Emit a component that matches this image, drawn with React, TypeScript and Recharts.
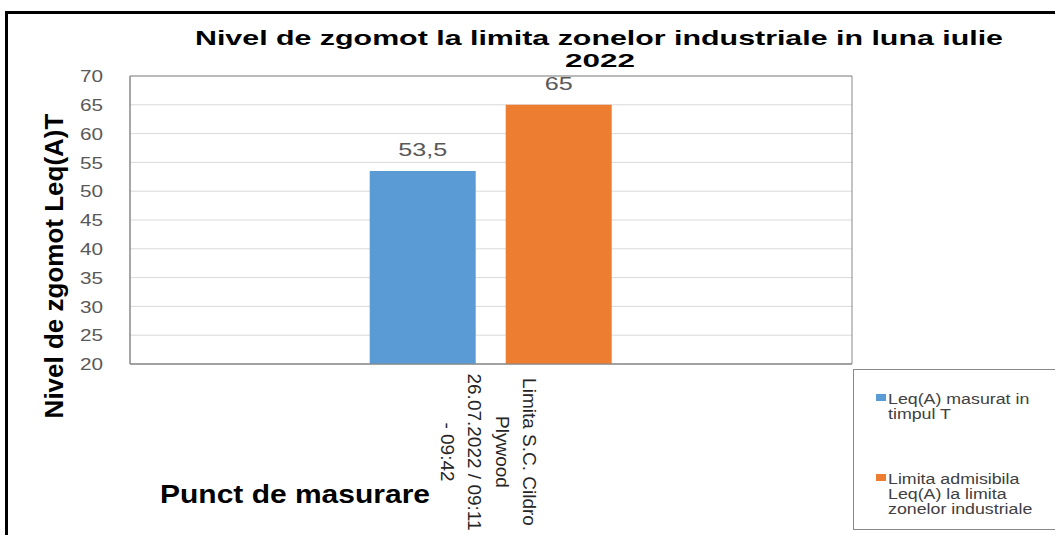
import React from 'react';
import { BarChart, Bar, XAxis, YAxis, CartesianGrid, ReferenceArea, LabelList, Legend } from 'recharts';

const categories = ['Limita S.C. Cildro Plywood 26.07.2022 / 09:11 - 09:42'];
const categoryLines = [['Limita S.C. Cildro', 'Plywood', '26.07.2022 / 09:11', '- 09:42']];
const measured = [53.5];
const limit = [65];
const yTicks = [20, 25, 30, 35, 40, 45, 50, 55, 60, 65, 70];
const seriesNames = ['Leq(A) masurat in timpul T', 'Limita admisibila Leq(A) la limita zonelor industriale'];
const legendLines = [['Leq(A) masurat in', 'timpul T'], ['Limita admisibila', 'Leq(A) la limita', 'zonelor industriale']];
const titleLines = ['Nivel de zgomot la limita zonelor industriale in luna iulie', '2022'];
const colors = ['#5b9bd5', '#ed7d31'];

const data = categories.map((c, i) => ({ name: c, measured: measured[i], limit: limit[i] }));

const font = '"Liberation Sans", Arial, sans-serif';
// the picture is a bit wider than tall, so horizontal text gets stretched
const SX = 1.27;

function CatTick(props: any) {
  const { x, payload } = props;
  const lines = categoryLines[payload.index] || [payload.value];
  return (
    <g transform={`translate(${x + 32},452) rotate(90)`}>
      {lines.map((l, i) => (
        <text key={i} x={0} y={i * 27.5} textAnchor="middle" fontSize={19} fill="#262626" fontFamily={font}>{l}</text>
      ))}
    </g>
  );
}

function YTick(props: any) {
  const { x, y, payload } = props;
  return (
    <g transform={`translate(${x},${y}) scale(1.22,1)`}>
      <text x={0} y={0} dy="0.36em" textAnchor="end" fontSize={17} fill="#595959" fontFamily={font}>{payload.value}</text>
    </g>
  );
}

function ValueLabel(props: any) {
  const { x, y, width, value } = props;
  return (
    <g transform={`translate(${x + width / 2},${y - 15}) scale(1.4,1)`}>
      <text x={0} y={0} textAnchor="middle" fontSize={18} fill="#595959" fontFamily={font}>{String(value).replace('.', ',')}</text>
    </g>
  );
}

function LegendBox() {
  const itemTop = [25, 105];
  return (
    <svg width={205} height={162} style={{ display: 'block' }}>
      <rect x={0.5} y={0.5} width={210} height={160} fill="#fff" stroke="#898989" />
      {legendLines.map((ls, i) => (
        <g key={i}>
          <rect x={23} y={itemTop[i]} width={10} height={7} fill={colors[i]} />
          {ls.map((l, j) => (
            <g key={j} transform={`translate(35,${itemTop[i] + 10 + j * 15}) scale(${SX},1)`}>
              <text x={0} y={0} fontSize={14} fill="#404040" fontFamily={font}>{l}</text>
            </g>
          ))}
        </g>
      ))}
    </svg>
  );
}

export default function App() {
  return (
    <div style={{ position: 'absolute', left: 0, top: 0, width: 1055, height: 535, background: '#fff', overflow: 'hidden' }}>
      <div style={{ position: 'absolute', left: 5, top: 11, width: 1200, height: 700, borderTop: '3px solid #000', borderLeft: '3px solid #000' }} />
      <BarChart width={1055} height={535} data={data} margin={{ top: 76, right: 203, bottom: 0, left: 0 }}
        barCategoryGap="33.2%" barGap={30} style={{ position: 'absolute', left: 0, top: 0 }}>
        <CartesianGrid vertical={false} stroke="#d9d9d9" />
        <XAxis dataKey="name" height={171} tickLine={false} axisLine={{ stroke: '#898989' }} tick={<CatTick />} interval={0} />
        <YAxis domain={[20, 70]} ticks={yTicks} width={130} tickLine={false} tickSize={0} tickMargin={27}
          axisLine={{ stroke: '#898989' }} tick={<YTick />} allowDataOverflow
          label={{
            content: () => (
              <text transform="translate(63,266) rotate(-90)" textAnchor="middle" fontSize={26} fontWeight="bold" fontFamily={font} fill="#000">
                Nivel de zgomot Leq(A)T
              </text>
            ),
          }} />
        <ReferenceArea y1={20} y2={70} fill="none" stroke="#898989" ifOverflow="visible" />
        <Legend layout="horizontal" align="center" verticalAlign="middle" content={() => <LegendBox />}
          wrapperStyle={{ position: 'absolute', left: 853, top: 369, width: 205, height: 162 }} />
        <Bar dataKey="measured" name={seriesNames[0]} fill={colors[0]} isAnimationActive={false}>
          <LabelList dataKey="measured" content={<ValueLabel />} />
        </Bar>
        <Bar dataKey="limit" name={seriesNames[1]} fill={colors[1]} isAnimationActive={false}>
          <LabelList dataKey="limit" content={<ValueLabel />} />
        </Bar>
      </BarChart>
      <svg width={1055} height={535} style={{ position: 'absolute', left: 0, top: 0, pointerEvents: 'none' }}>
        <text x={599} y={45} textAnchor="middle" fontSize={21} fontWeight="bold" fontFamily={font} fill="#000"
          textLength={808} lengthAdjust="spacingAndGlyphs">{titleLines[0]}</text>
        <text x={600} y={67} textAnchor="middle" fontSize={18} fontWeight="bold" fontFamily={font} fill="#000"
          textLength={70} lengthAdjust="spacingAndGlyphs">{titleLines[1]}</text>
        <text x={160} y={503} fontSize={25} fontWeight="bold" fontFamily={font} fill="#000"
          textLength={270} lengthAdjust="spacingAndGlyphs">Punct de masurare</text>
      </svg>
    </div>
  );
}
